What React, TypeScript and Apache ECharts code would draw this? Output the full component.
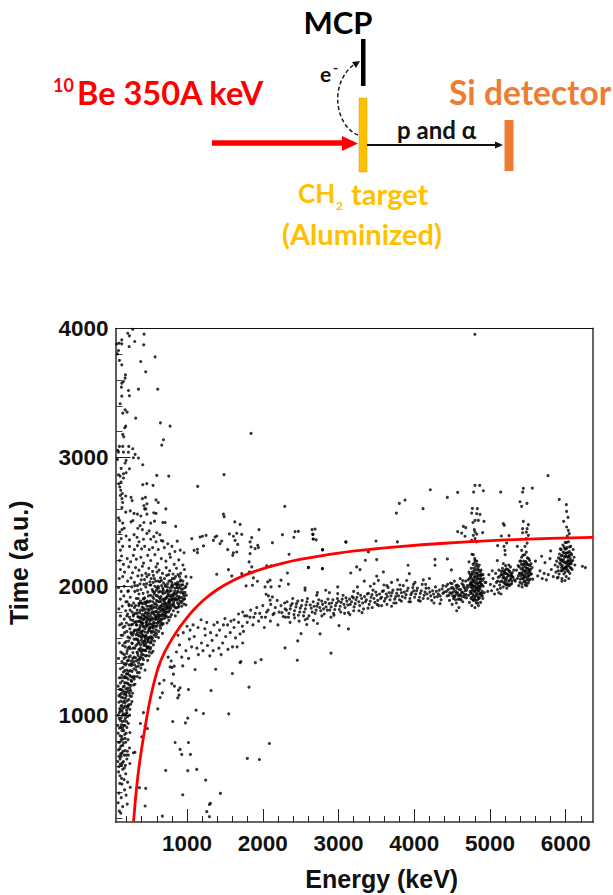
import React, { useEffect, useRef } from "react";
import * as echarts from "echarts";

type P = [number, number];

const xMajorTicks = [1000, 2000, 3000, 4000, 5000, 6000];
const xMinorTicks = [200, 400, 600, 800, 1200, 1400, 1600, 1800, 2200, 2400, 2600, 2800, 3200, 3400, 3600, 3800, 4200, 4400, 4600, 4800, 5200, 5400, 5600, 5800, 6200];
const yMajorTicks = [1000, 2000, 3000, 4000];
const yMinorTicks = [200, 400, 600, 800, 1200, 1400, 1600, 1800, 2200, 2400, 2600, 2800, 3200, 3400, 3600, 3800];

const redCurve: P[] = [[293,171],[310,290],[330,420],[360,575],[400,740],[450,920],[500,1085],[556,1235],[620,1370],[700,1485],[800,1590],[900,1680],[1000,1757],[1100,1825],[1211,1890],[1400,1975],[1608,2045],[1820,2100],[2050,2145],[2270,2180],[2493,2208],[3000,2258],[3506,2292],[4100,2322],[4695,2345],[5200,2360],[5800,2371],[6360,2379]];

const upperLeft: P[] = [[283,3994],[217,3963],[239,3943],[432,3956],[138,3912],[309,3899],[103,3886],[72,3881],[235,3860],[138,3881],[428,3873],[94,3829],[578,3780],[80,3803],[107,3752],[388,3744],[138,3718],[454,3664],[186,3640],[182,3615],[160,3589],[138,3576],[133,3545],[358,3529],[613,3529],[226,3519],[138,3475],[239,3478],[116,3416],[182,3369],[208,3351],[151,3343],[322,3305],[648,3268],[776,3243],[190,3243],[177,3230],[151,3178],[164,3160],[688,3137],[666,3095],[1845,3186],[107,3085],[151,3085],[230,3085],[283,3067],[85,3054],[94,3041],[160,3041],[225,3040],[314,3023],[292,2997],[358,2995],[80,2984],[195,2977],[182,2956],[415,2943],[129,2915],[239,2912],[195,2881],[160,2873],[94,2865],[116,2855],[600,2860],[758,2855],[1488,2866],[160,2840],[129,2809],[1141,2775],[415,2788],[468,2796],[551,2783],[100,2795],[112,2770],[125,2745],[145,2720],[120,2705],[190,2700],[140,2680],[260,2690],[275,2665],[150,2650],[410,2680],[450,2690],[470,2640],[590,2670],[620,2650],[440,2600],[455,2600],[430,2625],[140,2610],[190,2575],[250,2585],[300,2565],[345,2560],[390,2545],[470,2560],[560,2570],[590,2565],[720,2600],[95,2530],[110,2510],[150,2490],[260,2500],[285,2510],[380,2470],[430,2495],[520,2490],[570,2505],[680,2495],[710,2495],[850,2465],[140,2440],[110,2420],[170,2450],[350,2450],[410,2440],[470,2410],[500,2430],[600,2415],[640,2400],[680,2350],[130,2370],[100,2345],[195,2390],[240,2360],[300,2400],[340,2380],[365,2345],[425,2365],[520,2365],[560,2385],[590,2345],[660,2355],[745,2330],[800,2310],[870,2350],[150,2310],[120,2280],[240,2310],[305,2285],[345,2315],[400,2290],[440,2310],[500,2285],[545,2300],[620,2285],[700,2300],[770,2250],[840,2270],[910,2280],[960,2260]];

const mainCluster: P[] = [[110,2200],[135,2235],[160,2170],[210,2215],[255,2190],[290,2240],[330,2210],[390,2225],[425,2180],[480,2240],[520,2200],[575,2245],[610,2175],[660,2215],[720,2195],[780,2225],[830,2170],[890,2205],[945,2165],[120,2130],[175,2110],[230,2150],[280,2105],[320,2145],[365,2125],[410,2155],[455,2100],[495,2140],[545,2115],[590,2150],[630,2125],[675,2100],[725,2145],[770,2120],[815,2095],[860,2140],[915,2100],[965,2130],[105,2060],[150,2075],[215,2040],[260,2065],[305,2030],[350,2080],[395,2050],[430,2015],[470,2075],[510,2035],[555,2085],[585,2040],[620,2000],[650,2065],[690,2025],[730,2085],[760,2040],[795,2005],[830,2060],[875,2030],[900,2075],[945,2040],[985,2075],[1000,2020],[95,1990],[130,1960],[170,2000],[225,1965],[270,1995],[310,1960],[345,2005],[390,1975],[420,1945],[455,1995],[480,1955],[510,2010],[540,1975],[565,1940],[600,1990],[625,1955],[655,1920],[680,1985],[710,1950],[740,1995],[765,1925],[790,1965],[820,1935],[845,1985],[870,1950],[895,1920],[925,1975],[950,1940],[975,1990],[990,1930],[120,1900],[165,1925],[210,1880],[250,1915],[295,1870],[330,1905],[365,1940],[385,1885],[415,1865],[440,1910],[465,1875],[490,1925],[515,1885],[535,1850],[560,1905],[585,1865],[610,1925],[635,1880],[660,1845],[685,1900],[705,1860],[730,1910],[755,1875],[775,1840],[800,1895],[825,1860],[850,1905],[875,1870],[905,1885],[930,1845],[955,1900],[985,1855],[100,1825],[145,1845],[190,1810],[235,1850],[275,1800],[305,1835],[340,1790],[360,1850],[385,1815],[405,1780],[425,1830],[450,1795],[470,1845],[495,1810],[515,1770],[540,1825],[560,1785],[585,1835],[605,1800],[630,1760],[650,1820],[675,1785],[695,1840],[720,1795],[745,1760],[770,1815],[795,1780],[820,1810],[845,1770],[880,1800],[120,1770],[170,1745],[215,1785],[255,1740],[290,1770],[325,1725],[350,1765],[375,1730],[395,1760],[420,1715],[440,1750],[465,1720],[480,1770],[505,1735],[525,1705],[550,1745],[575,1715],[595,1760],[620,1725],[640,1695],[665,1745],[685,1710],[710,1755],[735,1715],[760,1735],[110,1700],[155,1680],[200,1715],[245,1670],[280,1705],[310,1660],[335,1700],[360,1665],[380,1695],[400,1650],[425,1685],[445,1645],[470,1690],[490,1655],[510,1680],[530,1640],[555,1675],[580,1640],[600,1690],[625,1650],[650,1675],[675,1635],[130,1620],[175,1640],[220,1605],[265,1630],[300,1590],[325,1625],[350,1585],[370,1615],[395,1580],[415,1620],[440,1575],[460,1610],[485,1570],[505,1600],[525,1565],[545,1600],[570,1575],[590,1610],[105,1560],[150,1540],[195,1570],[240,1530],[275,1555],[310,1520],[340,1550],[365,1510],[385,1545],[410,1505],[430,1540],[455,1500],[475,1530],[500,1490],[520,1525],[550,1495],[125,1490],[170,1470],[210,1500],[250,1460],[285,1485],[320,1445],[345,1480],[375,1440],[400,1470],[425,1430],[450,1460],[480,1425],[95,1440],[140,1415],[185,1390],[225,1425],[265,1385],[295,1415],[330,1375],[360,1405],[390,1365],[415,1395],[445,1350],[120,1360],[160,1335],[205,1350],[240,1310],[275,1340],[310,1300],[345,1330],[375,1290],[105,1290],[145,1265],[185,1290],[220,1245],[260,1270],[295,1235],[90,1225],[130,1200],[170,1225],[205,1180],[245,1210],[280,1170],[115,1160],[155,1135],[190,1165],[230,1120],[265,1145],[100,1100],[140,1075],[180,1095],[215,1060],[255,1085],[120,1035],[160,1010],[200,1040],[240,1000],[105,975],[145,950],[185,975],[225,935],[125,905],[165,880],[205,905],[245,865],[90,860],[135,835],[175,850],[220,810],[110,790],[150,765],[190,790],[240,745],[95,730],[140,705],[180,725],[225,690],[115,660],[160,640],[205,660],[245,625],[100,600],[150,580],[190,545],[115,530],[215,480],[140,465],[175,420],[100,395],[250,440],[130,360],[90,320],[210,310],[150,290],[105,255],[125,240]];

const denseCore: P[] = [[320,1850],[355,1905],[372,1795],[398,1870],[412,1745],[430,1905],[445,1820],[458,1760],[473,1885],[488,1700],[502,1845],[518,1930],[530,1790],[548,1880],[558,1720],[572,1955],[588,1805],[596,1890],[612,1745],[622,1985],[636,1835],[648,1900],[664,1770],[672,1955],[688,1820],[702,1880],[715,2000],[728,1845],[742,1925],[756,1800],[768,1960],[782,1890],[798,2030],[812,1850],[826,1945],[840,1895],[858,2015],[872,1835],[886,1985],[900,1910],[918,2050],[936,1885],[948,1980],[962,1925],[330,1700],[345,1640],[362,1760],[378,1680],[392,1610],[405,1710],[418,1655],[432,1780],[448,1590],[462,1725],[478,1640],[492,1790],[508,1675],[522,1610],[538,1755],[552,1650],[568,1800],[582,1690],[598,1630],[615,1825],[628,1720],[645,1775],[658,1850],[670,1700],[690,1750],[708,1815],[725,1770],[740,1860],[760,1885],[785,1830],[805,1900],[835,1840],[865,1925],[890,1860],[300,1450],[325,1540],[340,1490],[358,1570],[372,1430],[388,1520],[402,1600],[420,1470],[438,1550],[455,1620],[470,1520],[486,1580],[500,1460],[515,1560],[535,1600],[555,1545],[150,1100],[175,1180],[200,1250],[215,1320],[228,1080],[245,1150],[260,1230],[272,1400],[285,1290],[298,1360],[312,1240],[328,1420],[342,1300],[356,1380],[370,1330],[385,1450],[150,1000],[170,1060],[185,1130],[205,1020],[225,1190],[120,1250],[140,1310],[165,1400],[190,1450],[220,1520],[245,1600],[265,1700],[280,1620],[295,1780],[270,1850],[240,1760],[205,1650],[175,1560],[145,1480],[125,1110],[135,1170],[165,1290],[100,1150],[110,1050],[130,980],[140,880],[115,840],[125,760],[160,920],[180,1000],[90,1000],[85,920],[95,790],[100,680],[135,610],[85,640]];

const coreExtra: P[] = [[342,1815],[366,1868],[381,1752],[407,1838],[422,1902],[436,1768],[451,1862],[463,1702],[479,1822],[494,1878],[507,1748],[521,1842],[534,1682],[546,1918],[561,1838],[576,1772],[591,1928],[604,1852],[619,1788],[633,1912],[642,1742],[656,1882],[669,1808],[683,1942],[697,1772],[712,1902],[724,1828],[738,1968],[751,1838],[765,1898],[778,1762],[793,1932],[808,1992],[822,1878],[836,1962],[851,1832],[868,1992],[883,1902],[897,2012],[912,1952],[928,1912],[943,2012],[958,1862],[972,1952],[368,1662],[386,1722],[403,1632],[416,1692],[433,1612],[447,1672],[461,1562],[476,1742],[491,1602],[506,1712],[519,1652],[533,1582],[549,1702],[563,1622],[578,1752],[592,1662],[608,1712],[623,1602],[639,1802],[654,1732],[677,1862],[695,1802],[718,1868],[746,1828],[772,1872],[802,1858],[232,1700],[258,1640],[248,1815],[283,1735],[302,1655],[316,1790],[338,1590],[354,1462],[376,1502],[393,1392],[411,1442],[428,1572],[442,1502],[466,1462],[484,1522],[512,1512],[530,1482],[262,1420],[288,1520],[236,1390],[212,1422],[198,1320],[252,1345],[268,1262],[222,1280],[178,1345],[158,1220],[192,1205],[236,1235],[272,1105],[208,1110],[244,1045],[166,1162],[128,1070],[142,1030],[188,1070],[214,990],[172,955],[132,925],[196,860],[152,815],[122,700],[170,690],[212,720],[186,610],[118,620],[135,510],[168,500],[96,560],[112,470],[195,380],[232,1860],[205,1770],[178,1690],[152,1620],[138,1710],[192,1880],[218,1960],[310,2005],[346,1968],[378,2018],[404,2085],[438,2052],[466,2020],[496,2090],[526,2060],[552,2030],[574,2000],[604,2110],[640,2035],[664,2005],[702,2060],[744,2020],[776,1985],[806,2060],[842,2020],[880,2090],[930,2010]];

const massExtra: P[] = [[352,1728],[374,1868],[396,1722],[414,1812],[428,1742],[442,1878],[456,1692],[468,1792],[484,1752],[498,1668],[512,1822],[526,1738],[542,1802],[556,1692],[570,1862],[584,1742],[602,1772],[616,1882],[632,1772],[646,1842],[662,1712],[676,1822],[692,1892],[706,1782],[722,1912],[736,1802],[752,1942],[770,1852],[788,1918],[816,1922],[830,1902],[848,1942],[862,1892],[878,1962],[892,1842],[908,1992],[922,1872],[940,1952],[968,1902],[985,2000],[522,2010],[548,1960],[568,2060],[596,1970],[618,2040],[644,1960],[662,2045],[686,1970],[712,2010],[736,1960],[758,2090],[784,2045],[812,2010],[848,2075],[870,2010],[910,2040],[272,1560],[292,1640],[308,1720],[322,1590],[336,1660],[352,1620],[366,1560],[380,1640],[396,1490],[412,1560],[426,1505],[444,1610],[456,1540],[478,1590],[494,1530],[182,1530],[204,1480],[228,1575],[252,1515],[166,1440],[198,1400],[232,1450],[258,1395],[282,1440],[306,1390],[326,1350],[350,1430],[152,1370],[178,1300],[202,1290],[228,1340],[254,1300],[282,1300],[302,1280],[130,1290],[150,1190],[176,1250],[196,1150],[214,1210],[238,1170],[256,1190],[112,1200],[130,1140],[148,1050],[170,1110],[196,1010],[222,1070],[106,1020],[118,960],[150,900],[178,920],[202,950],[108,900],[130,810],[160,785],[182,820],[112,740],[152,720],[198,690],[128,680],[146,630],[172,590]];

const lowerRight: P[] = [[718,571],[1009,569],[1128,579],[1246,496],[943,382],[1440,393],[1308,315],[1295,307],[1260,251],[1295,212],[674,217],[446,295],[454,432],[371,437],[292,708],[312,712],[842,788],[1018,788],[908,734],[930,695],[1044,695],[1796,664],[1955,656],[2087,780],[811,951],[978,940],[1009,977],[1119,1039],[1216,1013],[1550,1010],[613,1049],[424,1020],[384,935],[446,915],[476,896],[402,832],[1317,1191],[1018,1199],[1818,1217],[908,1212],[886,1194],[894,1155],[877,1134],[833,1225],[798,1245],[644,1137],[674,1173],[696,1271],[635,1245],[820,1318],[776,1374],[830,1380],[800,1370],[943,1382],[1106,1354],[1378,1356],[1598,1323],[1700,1408],[1710,1415],[1902,1408],[1978,1431],[2294,1522],[2456,1426],[2461,1576],[750,1450],[790,1420],[860,1490],[900,1545],[930,1450],[985,1500],[1020,1440],[1060,1530],[1030,1590],[1095,1610],[1130,1520],[1150,1470],[1190,1560],[1210,1500],[1240,1620],[1270,1540],[1300,1460],[1330,1580],[1345,1500],[1390,1620],[1420,1520],[1450,1470],[1470,1560],[1510,1610],[1540,1510],[1570,1640],[1600,1530],[1640,1600],[1660,1530],[1700,1630],[1735,1560],[1745,1650],[880,1620],[950,1640],[1000,1690],[1040,1660],[1080,1700],[1145,1680],[1185,1740],[1235,1670],[1260,1720],[1310,1640],[1355,1700],[1400,1720],[1430,1660],[1480,1700],[1500,1750],[1535,1700],[1580,1730],[1620,1680],[1680,1720],[1730,1690],[1760,1770],[1795,1720],[1830,1760],[1870,1700],[1900,1790],[1945,1730],[1985,1760],[2020,1680],[2050,1800],[2100,1730],[2150,1790],[2200,1700]];

const upperMiddle: P[] = [[1062,2369],[1172,2382],[1203,2388],[1251,2395],[1370,2382],[1392,2390],[1348,2356],[1458,2351],[1436,2331],[1559,2406],[1612,2388],[1656,2411],[1722,2403],[1634,2356],[1669,2325],[1854,2377],[1832,2344],[1845,2305],[1898,2292],[1933,2318],[1942,2300],[2127,2338],[2259,2400],[2426,2424],[2470,2426],[2659,2403],[2668,2367],[3095,2344],[1093,2279],[1137,2287],[1137,2261],[1216,2313],[1537,2284],[1656,2266],[1612,2260],[1603,2240],[1832,2253],[2347,2248],[2787,2284],[1819,2189],[1854,2150],[2052,2158],[2109,2158],[1546,2129],[1722,2098],[1823,2111],[1392,2093],[1590,2080],[1053,2070],[2325,2103],[2602,2145],[2787,2137],[1876,2065],[1929,2039],[2096,2047],[2065,2034],[2241,2047],[1779,2003],[1863,2008],[2030,1995],[2109,1995],[2338,2016],[2219,2000],[2558,1987],[2558,1969],[2043,1938],[2074,1925],[2127,1917],[2096,1892],[2721,1951],[2712,1930],[2831,1969],[2989,1995],[2989,1943],[2880,1950],[1480,2560],[1490,2540],[1700,2480],[1950,2440],[2290,2620],[2410,2380],[1630,2500],[2650,2440],[2705,2360]];

const arm: P[] = [[1620,1740],[1680,1785],[1735,1800],[1790,1770],[1840,1815],[1880,1760],[1920,1835],[1960,1790],[2000,1850],[2035,1760],[2070,1815],[2105,1860],[2135,1780],[2165,1835],[2190,1890],[2215,1800],[2240,1850],[2270,1765],[2295,1825],[2320,1880],[2345,1790],[2370,1850],[2395,1905],[2420,1810],[2445,1865],[2470,1775],[2495,1830],[2520,1890],[2545,1800],[2570,1855],[2590,1905],[2610,1770],[2640,1830],[2665,1880],[2690,1790],[2715,1845],[2740,1895],[2765,1810],[2790,1860],[2810,1785],[2835,1840],[2860,1900],[2885,1815],[2910,1870],[2935,1790],[2960,1850],[2985,1905],[3010,1820],[3035,1875],[3060,1930],[3085,1835],[3110,1885],[3130,1795],[3155,1860],[3180,1920],[3205,1840],[3230,1895],[3255,1945],[3280,1850],[3305,1905],[3330,1825],[3355,1880],[3380,1940],[3405,1860],[3430,1915],[3455,1970],[3480,1875],[3505,1930],[3530,1850],[3555,1905],[3580,1960],[3605,1885],[3630,1940],[3655,1990],[3680,1895],[3705,1950],[3730,1870],[3755,1920],[3780,1975],[3805,1895],[3830,1950],[3855,2005],[3880,1910],[3905,1965],[3930,1880],[3955,1935],[3980,1990],[4005,1915],[4030,1965],[4055,1890],[4080,1945],[4105,2015],[4130,1930],[4155,1985],[4180,1905],[4205,1955],[4230,1890],[4255,1940],[4280,1995],[4305,1920],[4330,1970],[4355,1895],[4380,1945],[3200,1960],[3340,2040],[3420,2000],[3600,2010],[3700,2030],[3780,2050],[3900,2045],[4010,2030],[4120,2050],[4200,2060],[4260,1870],[4340,1865],[3030,1800],[2900,1760],[2780,1770],[2670,1735],[2560,1740],[2480,1730],[2420,1755],[2360,1720],[2300,1760],[3150,1780],[3270,1810],[3390,1830],[3510,1860],[3640,1860],[3760,1870]];

const armExtra: P[] = [[2252,1795],[2288,1870],[2312,1815],[2338,1760],[2362,1825],[2388,1865],[2412,1780],[2438,1840],[2462,1885],[2488,1800],[2512,1850],[2538,1770],[2562,1825],[2582,1880],[2626,1855],[2652,1800],[2678,1845],[2704,1815],[2728,1865],[2752,1835],[2778,1885],[2802,1825],[2826,1875],[2852,1815],[2876,1865],[2902,1840],[2926,1895],[2950,1820],[2974,1870],[3000,1885],[3022,1845],[3048,1900],[3072,1860],[3098,1910],[3122,1855],[3146,1900],[3172,1880],[3196,1910],[3220,1865],[3244,1915],[3268,1880],[3292,1930],[3318,1870],[3344,1920],[3368,1895],[3394,1945],[3418,1885],[3442,1935],[3468,1905],[3492,1955],[3518,1890],[3542,1940],[3568,1915],[3594,1965],[3618,1905],[3644,1920],[3668,1950],[3692,1925],[3718,1970],[3742,1900],[3768,1945],[3792,1925],[3818,1975],[3842,1920],[3868,1955],[3892,1935],[3918,1985],[3942,1905],[3968,1950],[3992,1965],[4018,1940],[4042,1985],[4068,1915],[4092,1965],[4118,1905],[4142,1955],[4168,1940],[4192,1985],[4218,1925],[4242,1965],[4268,1915],[4292,1960],[4318,1940],[4342,1925],[4368,1980],[2940,1775],[3080,1790],[3200,1810],[3310,1795],[3445,1835],[3570,1850],[3700,1845],[3830,1885],[3950,1880],[4080,1885],[3250,1995],[3470,2020],[3640,2005],[3810,2010],[3990,2015],[4150,2015]];

const upperRight: P[] = [[5766,2858],[4212,2749],[4437,2690],[4573,2729],[3803,2643],[3878,2669],[3764,2568],[4116,2602],[4802,2783],[4864,2783],[4784,2731],[4912,2741],[5141,2731],[5440,2760],[5559,2762],[5431,2731],[5396,2656],[5488,2643],[5418,2620],[5915,2674],[6008,2633],[6012,2581],[6030,2535],[5972,2504],[6012,2460],[6034,2434],[6047,2408],[6020,2390],[4767,2604],[4833,2602],[4758,2568],[4824,2563],[4868,2558],[4802,2511],[4846,2511],[4921,2504],[4775,2495],[4648,2465],[4680,2455],[4573,2424],[4626,2413],[4670,2388],[4793,2439],[4802,2421],[4780,2395],[4825,2405],[4903,2416],[4758,2357],[4802,2370],[4825,2345],[5176,2486],[5189,2473],[5150,2390],[5251,2393],[5220,2336],[5185,2310],[5101,2315],[5198,2279],[5200,2245],[5097,2199],[5176,2176],[5440,2504],[5506,2478],[5431,2447],[5490,2447],[5480,2420],[5431,2415],[5506,2395],[5480,2370],[5490,2335],[5361,2310],[5462,2310],[5418,2279],[5480,2265],[5801,2274],[5792,2214],[5682,2233],[5600,2195],[5726,2183],[4274,2209],[4274,2163],[4437,2212],[3504,2207],[3354,2202],[3918,2163],[3935,2098],[3592,2111],[4490,2127],[4762,2248],[4780,2245],[4723,2189],[4802,2200],[4825,2195],[2791,2282],[3099,2343],[3495,2351],[3777,2344],[2664,2403],[2664,2367],[2690,2444],[3394,2266],[2602,2147],[2787,2137],[3240,2150],[3284,2129],[3161,2103],[3504,2078],[3526,2046],[2901,1481],[3007,1695],[3130,1669],[2756,1631],[2721,1711],[2580,1703],[2589,1750],[2505,1633],[4800,3955],[6220,2155],[6260,2145]];

const cluster4500: P[] = [[4395,1955],[4420,2000],[4435,1925],[4450,1975],[4465,1890],[4478,2025],[4490,1945],[4505,1990],[4518,1905],[4530,2040],[4545,1960],[4556,1870],[4568,2010],[4580,1930],[4592,1975],[4606,2060],[4618,1895],[4630,2020],[4642,1950],[4654,1995],[4665,1915],[4678,2040],[4690,1970],[4700,2005],[4425,1960],[4470,1950],[4512,1955],[4550,2005],[4598,1925],[4640,2045],[4672,1965],[4440,2015],[4485,1985],[4530,1920],[4572,1950],[4615,1975],[4660,1935],[4690,1910],[4500,1860],[4560,1810],[4590,1835],[4545,1895],[4610,1935],[4640,1880],[4380,2005],[4458,1930],[4498,2020],[4522,1978],[4538,1925],[4562,1985],[4585,2000],[4602,1900],[4625,1955],[4648,2010],[4668,1985],[4685,1935],[4510,1925],[4555,1945],[4578,1900],[4636,1920]];

const cluster4800: P[] = [[4705,1990],[4712,2050],[4718,1930],[4722,2110],[4728,1875],[4733,2010],[4738,1960],[4742,2075],[4748,1905],[4752,2140],[4755,2025],[4760,1850],[4764,1985],[4768,2095],[4772,1940],[4776,2170],[4780,2045],[4783,1890],[4787,2000],[4790,2120],[4794,1960],[4798,2215],[4801,1835],[4804,2070],[4808,1920],[4811,2155],[4814,2020],[4818,1870],[4822,1975],[4825,2105],[4828,1945],[4832,2060],[4836,1895],[4840,2130],[4843,2005],[4847,1850],[4850,2085],[4854,1965],[4858,2165],[4861,1910],[4865,2035],[4869,1980],[4872,2110],[4876,1875],[4880,2060],[4884,1930],[4888,2015],[4892,2090],[4896,1960],[4900,2045],[4905,1905],[4910,2000],[4916,2060],[4925,1950],[4735,2095],[4746,1995],[4758,1915],[4770,2035],[4785,2140],[4795,1905],[4806,2000],[4820,2045],[4830,1990],[4842,1920],[4852,2025],[4866,2085],[4878,2000],[4890,1945],[4745,1945],[4762,2060],[4778,1975],[4792,2075],[4812,1890],[4826,2170],[4838,1965],[4856,2125],[4870,1945],[4882,2125],[4730,2060],[4750,2035],[4775,2005],[4800,1960],[4815,2130],[4835,2100],[4848,1985],[4862,2000],[4874,2030],[4895,2010],[4908,2090],[4935,2030],[4740,2020],[4756,1960],[4766,2110],[4782,1925],[4796,2030],[4802,2100],[4816,1935],[4824,2080],[4834,2025],[4846,2060],[4858,1940],[4868,2055],[4884,2085],[4898,1925],[4752,2085],[4772,1895],[4788,2050],[4810,1985],[4838,1870],[4852,1905],[4762,2010],[4844,2150],[4794,2180]];

const cluster5200: P[] = [[4945,2030],[4970,1960],[4985,2090],[5005,2015],[5020,1965],[5040,2060],[5055,2000],[5075,2100],[5085,2030],[5098,1975],[5108,2070],[5118,2125],[5128,2010],[5138,1985],[5146,2090],[5156,2040],[5164,2140],[5174,1995],[5182,2075],[5190,2110],[5198,2020],[5206,2160],[5214,2055],[5222,1985],[5230,2095],[5238,2130],[5246,2040],[5254,2005],[5262,2080],[5270,2150],[5278,2060],[5286,2020],[5294,2105],[5304,2070],[5314,2125],[5324,2050],[5100,2040],[5125,2075],[5150,2115],[5170,2065],[5195,2060],[5210,2100],[5228,2020],[5242,2085],[5258,2115],[5276,2100],[5292,2040],[5180,2030],[5135,2035],[5160,2090],[5200,2125],[5218,2135],[5248,2165],[5268,2015],[5030,2120],[5060,1940],[5115,1950],[5145,1940],[5186,2100],[5204,2040],[5224,2070],[5236,2010],[5250,2120],[5264,2050],[5284,2085],[5212,2010],[5172,2120],[5296,2075]];

const cluster5450: P[] = [[5335,2040],[5350,2125],[5362,2060],[5372,2160],[5380,2005],[5388,2100],[5395,2195],[5402,2055],[5410,2135],[5417,2225],[5424,1995],[5431,2090],[5438,2170],[5445,2035],[5452,2120],[5458,2245],[5464,2010],[5470,2075],[5476,2190],[5482,2140],[5488,2050],[5494,2220],[5500,2105],[5506,2025],[5512,2165],[5518,2085],[5524,2200],[5530,2055],[5536,2130],[5542,2175],[5548,2095],[5556,2145],[5564,2055],[5400,2100],[5415,2170],[5428,2060],[5440,2125],[5455,2070],[5468,2150],[5480,2095],[5492,2170],[5505,2080],[5520,2130],[5535,2095],[5420,2020],[5445,2195],[5462,2110],[5475,2025],[5498,2140],[5510,2215],[5386,2150],[5408,2195],[5435,2240],[5455,2170],[5485,2005],[5528,2160],[5375,2080],[5395,2030],[5422,2105],[5434,2145],[5448,2085],[5460,2040],[5472,2120],[5486,2175],[5496,2065],[5508,2120],[5516,2045],[5526,2110],[5412,2080],[5442,2060],[5466,2190]];

const cluster6000: P[] = [[5630,2080],[5660,2120],[5690,2060],[5715,2100],[5745,2050],[5770,2090],[5810,2130],[5835,2075],[5860,2165],[5870,2110],[5880,2195],[5888,2065],[5896,2150],[5905,2220],[5912,2095],[5920,2180],[5928,2290],[5935,2120],[5942,2235],[5950,2060],[5956,2160],[5963,2320],[5970,2205],[5976,2095],[5982,2260],[5988,2140],[5994,2340],[6000,2180],[6006,2075],[6012,2230],[6018,2300],[6024,2125],[6030,2200],[6036,2345],[6042,2160],[6048,2270],[6054,2100],[6060,2215],[6066,2310],[6072,2175],[6078,2245],[6084,2130],[6092,2200],[6098,2285],[5925,2210],[5945,2145],[5965,2265],[5985,2185],[6005,2290],[6022,2170],[6040,2230],[6058,2145],[6075,2195],[5955,2240],[5975,2140],[5995,2235],[6015,2150],[6035,2115],[6052,2305],[5900,2120],[5918,2250],[5940,2285],[5978,2305],[6010,2340],[6046,2195],[6028,2260],[5962,2190],[5992,2110],[6008,2135],[6068,2255],[6110,2225],[6120,2165],[5950,2040],[5990,2045],[6040,2060],[5900,2070],[5932,2170],[5948,2205],[5968,2130],[5984,2225],[5998,2150],[6002,2255],[6014,2190],[6026,2225],[6038,2175],[6050,2240],[6062,2180],[6074,2140],[5952,2120],[5938,2200],[5990,2290],[6020,2260]];

const dots: P[] = [...upperLeft, ...mainCluster, ...denseCore, ...coreExtra, ...massExtra, ...lowerRight, ...upperMiddle, ...arm, ...armExtra, ...upperRight, ...cluster4500, ...cluster4800, ...cluster5200, ...cluster5450, ...cluster6000];

const LABEL_FONT = "Liberation Sans";
const DIAGRAM_FONT = "Lato";

function diagramText(text: string, x: number, y: number, size: number, fill: string, align = "left") {
  return {
    type: "text",
    x,
    y,
    silent: true,
    style: { text, fontFamily: DIAGRAM_FONT, fontWeight: "bold", fontSize: size, fill, align, verticalAlign: "middle" },
  };
}

function hiddenAxis(extra: object) {
  return { type: "value", axisLabel: { show: false }, axisTick: { show: false }, splitLine: { show: false }, ...extra };
}

export default function App() {
  const ref = useRef<HTMLDivElement>(null);
  useEffect(() => {
    const chart = echarts.init(ref.current!, null, { renderer: "svg" });
    const xRange = { min: 55, max: 6360 };
    const yRange = { min: 171, max: 4000 };
    const frameDark = { show: true, onZero: false, lineStyle: { color: "#333", width: 1.6 } };
    const plain = (v: number) => String(v);
    chart.setOption({
      animation: false,
      backgroundColor: "#fff",
      grid: { left: 115.5, right: 20, top: 328.5, bottom: 73, containLabel: false, outerBoundsMode: "none" },
      xAxis: [
        {
          type: "value",
          position: "bottom",
          ...xRange,
          name: "Energy (keV)",
          nameLocation: "middle",
          nameGap: 44,
          nameTextStyle: { fontFamily: LABEL_FONT, fontWeight: "bold", fontSize: 25, color: "#111", padding: [0, 0, 0, 55] },
          axisLine: frameDark,
          axisTick: { show: true, inside: true, length: 13, customValues: xMajorTicks, lineStyle: { color: "#222", width: 1 } },
          axisLabel: { show: true, margin: 10, customValues: xMajorTicks, formatter: plain, fontFamily: LABEL_FONT, fontWeight: "bold", fontSize: 22.5, color: "#111" },
          splitLine: { show: false },
        },
        hiddenAxis({ position: "bottom", ...xRange, axisLine: { show: false, onZero: false }, axisTick: { show: true, inside: true, length: 6, customValues: xMinorTicks, lineStyle: { color: "#222", width: 1 } } }),
        hiddenAxis({ position: "top", ...xRange, axisLine: { show: true, onZero: false, lineStyle: { color: "#111", width: 1 } } }),
      ],
      yAxis: [
        {
          type: "value",
          position: "left",
          ...yRange,
          name: "Time (a.u.)",
          nameLocation: "middle",
          nameGap: 84,
          nameTextStyle: { fontFamily: LABEL_FONT, fontWeight: "bold", fontSize: 25, color: "#111", padding: [0, 0, 0, 25] },
          axisLine: frameDark,
          axisTick: { show: true, inside: true, length: 15, customValues: yMajorTicks, lineStyle: { color: "#222", width: 1 } },
          axisLabel: { show: true, margin: 7, customValues: yMajorTicks, formatter: plain, fontFamily: LABEL_FONT, fontWeight: "bold", fontSize: 22.5, color: "#111" },
          splitLine: { show: false },
        },
        hiddenAxis({ position: "left", ...yRange, axisLine: { show: false, onZero: false }, axisTick: { show: true, inside: true, length: 7, customValues: yMinorTicks, lineStyle: { color: "#444", width: 1 } } }),
        hiddenAxis({ position: "right", ...yRange, axisLine: { show: true, onZero: false, lineStyle: { color: "#666", width: 2 } } }),
      ],
      series: [
        {
          type: "scatter",
          name: "Events",
          data: dots,
          symbol: "circle",
          symbolSize: 3.1,
          itemStyle: { color: "#000" },
          silent: true,
        },
        {
          type: "line",
          name: "Kinematic curve",
          data: redCurve,
          smooth: 0.2,
          showSymbol: false,
          lineStyle: { color: "#ff0000", width: 2.8 },
          silent: true,
          z: 5,
        },
      ],
      graphic: [
        diagramText("MCP", 338, 22, 31, "#000", "center"),
        { type: "rect", shape: { x: 361, y: 39, width: 4.5, height: 47 }, style: { fill: "#000" } },
        diagramText("e", 320, 73, 21, "#111"),
        diagramText("-", 333, 67, 14, "#111"),
        { type: "bezierCurve", shape: { x1: 358, y1: 135, cpx1: 335, cpy1: 126, cpx2: 328, cpy2: 82, x2: 356, y2: 63 }, style: { stroke: "#111", lineWidth: 1.4, lineDash: [4, 2.5], fill: "none" } },
        { type: "polygon", shape: { points: [[360, 61], [352, 62], [356, 68]] }, style: { fill: "#111" } },
        { type: "rect", shape: { x: 359, y: 98, width: 8, height: 74 }, style: { fill: "#ffc000", stroke: "#c9a227", lineWidth: 0.5 } },
        { type: "line", shape: { x1: 212, y1: 143, x2: 345, y2: 143 }, style: { stroke: "#ff0000", lineWidth: 5.5 } },
        { type: "polygon", shape: { points: [[342, 136], [358, 143.5], [342, 151]] }, style: { fill: "#ff0000" } },
        { type: "line", shape: { x1: 367, y1: 145, x2: 496, y2: 145 }, style: { stroke: "#111", lineWidth: 2 } },
        { type: "polygon", shape: { points: [[495, 141.5], [503, 145], [495, 148.5]] }, style: { fill: "#111" } },
        { type: "rect", shape: { x: 504.5, y: 120, width: 9, height: 51 }, style: { fill: "#ed7d31" } },
        diagramText("10", 53, 85, 18, "#ff0000"),
        diagramText("Be 350A keV", 77, 92, 32.5, "#ff0000"),
        diagramText("Si detector", 449, 92, 33.5, "#ed7d31"),
        diagramText("p and α", 397, 129, 24, "#111"),
        diagramText("CH", 298, 193, 26, "#ffc000"),
        diagramText("2", 336, 205, 12, "#ffc000"),
        diagramText("target", 351, 193, 29, "#ffc000"),
        diagramText("(Aluminized)", 282, 233, 29, "#ffc000"),
      ],
    });
    return () => chart.dispose();
  }, []);
  return <div ref={ref} style={{ position: "absolute", left: 0, top: 0, width: 613, height: 895 }} />;
}
